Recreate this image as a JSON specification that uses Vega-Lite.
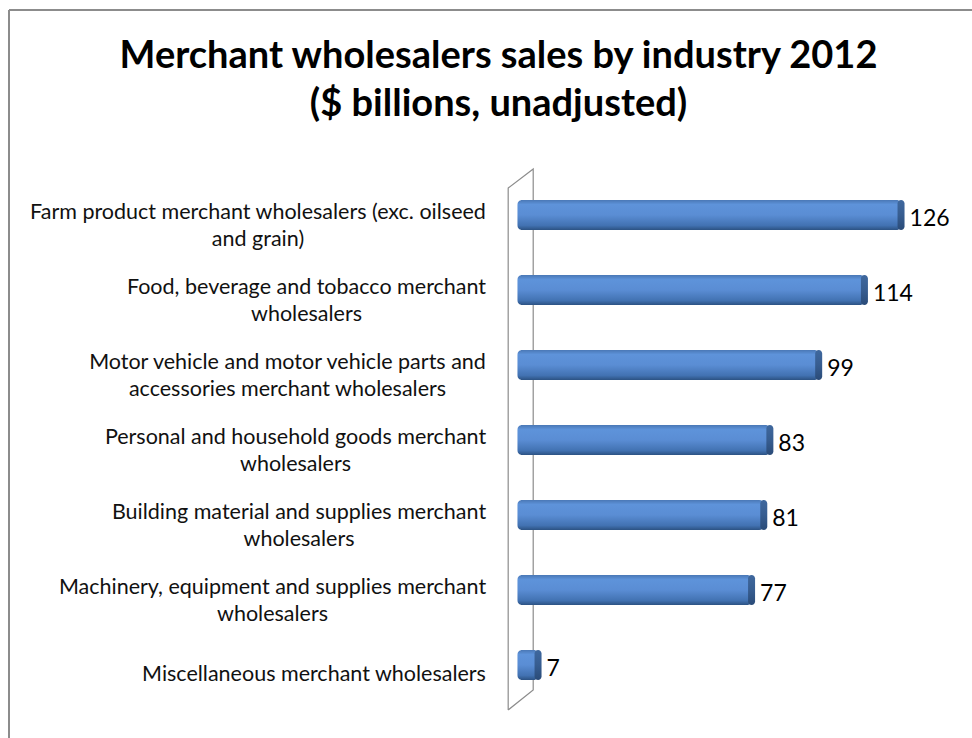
{
  "$schema": "https://vega.github.io/schema/vega-lite/v6.json",
  "width": 963,
  "height": 728,
  "autosize": {"type": "none"},
  "padding": {"left": 9, "top": 10, "right": 0, "bottom": 0},
  "background": "white",
  "config": {"view": {"stroke": null}},
  "title": {
    "text": ["Merchant wholesalers sales by industry 2012", "($ billions, unadjusted)"],
    "font": "Lato",
    "fontWeight": "bold",
    "fontSize": 38,
    "lineHeight": 48,
    "color": "#000000",
    "anchor": "middle",
    "frame": "group",
    "dx": 8,
    "offset": -115
  },
  "datasets": {
    "sales": [
      {"industry": "Farm product merchant wholesalers (exc. oilseed|and grain)", "sales": 126},
      {"industry": "Food, beverage and tobacco merchant|wholesalers", "sales": 114},
      {"industry": "Motor vehicle and motor vehicle parts and|accessories merchant wholesalers", "sales": 99},
      {"industry": "Personal and household goods merchant|wholesalers", "sales": 83},
      {"industry": "Building material and supplies merchant|wholesalers", "sales": 81},
      {"industry": "Machinery, equipment and supplies merchant|wholesalers", "sales": 77},
      {"industry": "Miscellaneous merchant wholesalers", "sales": 7}
    ],
    "wall": [
      {"o": 1, "wx": -2.95, "wy": 0.0385},
      {"o": 2, "wx": -2.95, "wy": 0.7555},
      {"o": 3, "wx": 5.25, "wy": 0.7816},
      {"o": 4, "wx": 5.25, "wy": 0.0659},
      {"o": 5, "wx": -2.95, "wy": 0.0385}
    ]
  },
  "layer": [
    {
      "data": {"name": "wall"},
      "layer": [
        {
          "mark": {"type": "line", "stroke": "#8c8c8c", "strokeWidth": 1.2},
          "encoding": {
            "x": {"field": "wx", "type": "quantitative", "scale": {"domain": [-166.6, 149.1], "nice": false, "zero": false}, "axis": null},
            "y": {"field": "wy", "type": "quantitative", "scale": {"domain": [0, 1], "nice": false}, "axis": null},
            "order": {"field": "o", "type": "quantitative"}
          }
        },
        {
          "mark": {"type": "rule", "stroke": "#8c8c8c", "strokeWidth": 1.5},
          "encoding": {
            "x": {"datum": -166.6, "type": "quantitative"}
          }
        },
        {
          "mark": {"type": "rule", "stroke": "#8c8c8c", "strokeWidth": 1.5},
          "encoding": {
            "y": {"datum": 1, "type": "quantitative"}
          }
        }
      ]
    },
    {
      "data": {"name": "sales"},
      "encoding": {
        "y": {
          "field": "industry",
          "type": "nominal",
          "sort": null,
          "scale": {"paddingInner": 0.6, "paddingOuter": 0.3, "rangeMin": 167.5, "rangeMax": 692.5},
          "axis": {
            "title": null,
            "domain": false,
            "ticks": false,
            "grid": false,
            "offset": -487,
            "labelAlign": "center",
            "labelPadding": {
              "condition": [
                {"test": "indexof(datum.value, 'Farm') == 0", "value": -227.5},
                {"test": "indexof(datum.value, 'Food') == 0", "value": -179},
                {"test": "indexof(datum.value, 'Motor') == 0", "value": -198},
                {"test": "indexof(datum.value, 'Personal') == 0", "value": -190},
                {"test": "indexof(datum.value, 'Building') == 0", "value": -186.5},
                {"test": "indexof(datum.value, 'Machinery') == 0", "value": -213}
              ],
              "value": -171.5
            },
            "labelOffset": {"condition": {"test": "indexof(datum.value, '|') < 0", "value": 10}, "value": -2},
            "labelLimit": 600,
            "labelFont": "Lato",
            "labelFontSize": 21.5,
            "labelLineHeight": 27,
            "labelColor": "#111111",
            "labelExpr": "split(datum.label, '|')"
          }
        }
      },
      "layer": [
        {
          "mark": {
            "type": "bar",
            "cornerRadius": 5,
            "color": {
              "gradient": "linear",
              "x1": 0, "y1": 0, "x2": 0, "y2": 1,
              "stops": [
                {"offset": 0, "color": "#4a78b6"},
                {"offset": 0.15, "color": "#5e93da"},
                {"offset": 0.5, "color": "#5a8dd4"},
                {"offset": 0.85, "color": "#4272b2"},
                {"offset": 1, "color": "#2c5283"}
              ]
            }
          },
          "encoding": {
            "x": {"field": "sales", "type": "quantitative", "scale": {"domain": [-166.6, 149.1], "nice": false, "zero": false}, "axis": null}
          }
        },
        {
          "mark": {
            "type": "bar",
            "cornerRadius": 4,
            "xOffset": -4,
            "x2Offset": 3,
            "color": {
              "gradient": "linear",
              "x1": 0, "y1": 0, "x2": 0, "y2": 1,
              "stops": [
                {"offset": 0, "color": "#3f689e"},
                {"offset": 0.5, "color": "#375d90"},
                {"offset": 1, "color": "#2a4b78"}
              ]
            }
          },
          "encoding": {
            "x": {"field": "sales", "type": "quantitative"},
            "x2": {"field": "sales"}
          }
        },
        {
          "mark": {"type": "text", "align": "left", "baseline": "middle", "dx": 8, "dy": 4, "font": "Lato", "fontSize": 23, "color": "#000000"},
          "encoding": {
            "x": {"field": "sales", "type": "quantitative"},
            "text": {"field": "sales", "type": "quantitative"}
          }
        }
      ]
    }
  ],
  "resolve": {"scale": {"y": "independent"}, "axis": {"y": "independent"}}
}
